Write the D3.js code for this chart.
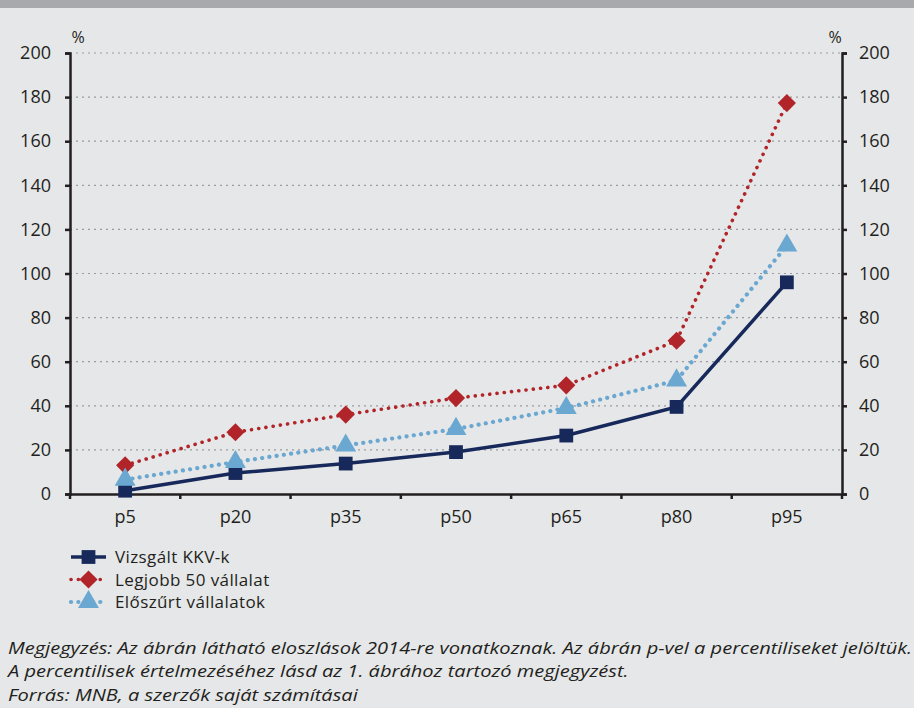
<!DOCTYPE html>
<html>
<head>
<meta charset="utf-8">
<script src="https://cdn.jsdelivr.net/npm/d3@7"></script>
<style>
  body { margin: 0; background: #e6e7e8; }
  svg { display: block; font-family: "Open Sans", sans-serif; }
</style>
</head>
<body>
<svg id="chart" width="914" height="708"></svg>
<script>
const categories = ['p5', 'p20', 'p35', 'p50', 'p65', 'p80', 'p95'];
const vizsgalt = [1.5, 9.5, 13.8, 19, 26.5, 39.5, 96];
const legjobb = [13, 28, 36, 43.5, 49.3, 69.5, 177.3];
const eloszurt = [6.5, 14.5, 22, 29.5, 39, 51.5, 112.7];
const yTicks = [0, 20, 40, 60, 80, 100, 120, 140, 160, 180, 200];
const seriesNames = ['Vizsgált KKV-k', 'Legjobb 50 vállalat', 'Előszűrt vállalatok'];
const notes = [
  'Megjegyzés: Az ábrán látható eloszlások 2014-re vonatkoznak. Az ábrán p-vel a percentiliseket jelöltük.',
  'A percentilisek értelmezéséhez lásd az 1. ábrához tartozó megjegyzést.',
  'Forrás: MNB, a szerzők saját számításai'
];

const series = [
  { name: seriesNames[0], values: vizsgalt, color: '#17295a', dash: null, width: 3.5, symbol: d3.symbolSquare, size: 190, rot: 0 },
  { name: seriesNames[1], values: legjobb, color: '#b1252a', dash: '0.1 7.2', width: 3.6, symbol: d3.symbolSquare, size: 165, rot: 45 },
  { name: seriesNames[2], values: eloszurt, color: '#6ba8d1', dash: '0.1 7.2', width: 4.2, symbol: d3.symbolTriangle, size: 190, rot: 0 }
];

const svg = d3.select('#chart');
const plotLeft = 70, plotRight = 842, plotTop = 53, plotBottom = 494;

svg.append('rect').attr('width', 914).attr('height', 708).attr('fill', '#e6e7e8');
svg.append('rect').attr('width', 914).attr('height', 8).attr('fill', '#a7a9ac');

const x = d3.scaleBand().domain(categories).range([plotLeft, plotRight]);
const y = d3.scaleLinear().domain([0, 200]).range([plotBottom, plotTop]);

// grid
svg.append('g').selectAll('line')
  .data(yTicks.filter(t => t > 0))
  .enter().append('line')
  .attr('x1', plotLeft).attr('x2', plotRight)
  .attr('y1', d => y(d)).attr('y2', d => y(d))
  .attr('stroke', '#9a9b9d').attr('stroke-width', 1.2)
  .attr('stroke-dasharray', '2 4');

// axes
const yLeft = svg.append('g').attr('transform', `translate(${plotLeft},0)`)
  .call(d3.axisLeft(y).tickValues(yTicks).tickSize(5).tickPadding(14));
const yRight = svg.append('g').attr('transform', `translate(${plotRight},0)`)
  .call(d3.axisRight(y).tickValues(yTicks).tickSize(5).tickPadding(12));
const xAxis = svg.append('g').attr('transform', `translate(0,${plotBottom})`)
  .call(d3.axisBottom(x).tickSize(0).tickPadding(16));

// category boundary ticks on the x axis
const bounds = categories.map(c => x(c)).concat([x.range()[1]]);
svg.append('g').selectAll('line')
  .data(bounds)
  .enter().append('line')
  .attr('x1', d => d).attr('x2', d => d)
  .attr('y1', plotBottom).attr('y2', plotBottom + 5)
  .attr('stroke', '#231f20').attr('stroke-width', 2.5);

[yLeft, yRight, xAxis].forEach(g => {
  g.select('.domain').attr('stroke', '#231f20').attr('stroke-width', 2.5);
  g.selectAll('.tick line').attr('stroke', '#231f20').attr('stroke-width', 2.5);
  g.selectAll('.tick text').attr('fill', '#231f20').attr('font-size', 18)
    .style('font-family', '"Open Sans", sans-serif');
});

svg.append('text').attr('x', 78).attr('y', 43).attr('text-anchor', 'middle')
  .attr('font-size', 16).attr('fill', '#231f20').text('%');
svg.append('text').attr('x', 835).attr('y', 43).attr('text-anchor', 'middle')
  .attr('font-size', 16).attr('fill', '#231f20').text('%');

const cx = c => x(c) + x.bandwidth() / 2;

// lines and markers
series.forEach(s => {
  const line = d3.line().x((d, i) => cx(categories[i])).y(d => y(d));
  svg.append('path')
    .datum(s.values)
    .attr('d', line)
    .attr('fill', 'none')
    .attr('stroke', s.color)
    .attr('stroke-width', s.width)
    .attr('stroke-linecap', s.dash ? 'round' : 'butt')
    .attr('stroke-dasharray', s.dash);

  svg.append('g').selectAll('path')
    .data(s.values)
    .enter().append('path')
    .attr('d', d3.symbol().type(s.symbol).size(s.size))
    .attr('transform', (d, i) => `translate(${cx(categories[i])},${y(d)}) rotate(${s.rot})`)
    .attr('fill', s.color);
});

// legend
const legend = svg.append('g');
series.forEach((s, i) => {
  const ly = 557 + i * 22.5;
  legend.append('line')
    .attr('x1', 71).attr('x2', 106).attr('y1', ly).attr('y2', ly)
    .attr('stroke', s.color).attr('stroke-width', s.width)
    .attr('stroke-linecap', s.dash ? 'round' : 'butt')
    .attr('stroke-dasharray', s.dash);
  legend.append('path')
    .attr('d', d3.symbol().type(s.symbol).size(s.size))
    .attr('transform', `translate(88.5,${ly}) rotate(${s.rot})`)
    .attr('fill', s.color);
  legend.append('text')
    .attr('x', 115).attr('y', ly + 6)
    .attr('font-size', 17).attr('letter-spacing', 0.4).attr('fill', '#231f20')
    .text(s.name);
});

// notes (the source font is wider than Open Sans, so stretch horizontally)
svg.append('g')
  .attr('transform', 'translate(8,0) scale(1.18,1)')
  .selectAll('text')
  .data(notes)
  .enter().append('text')
  .attr('x', 0).attr('y', (d, i) => 654 + i * 23.5)
  .attr('font-size', 17).attr('font-style', 'italic').attr('fill', '#231f20')
  .text(d => d);
</script>
</body>
</html>
